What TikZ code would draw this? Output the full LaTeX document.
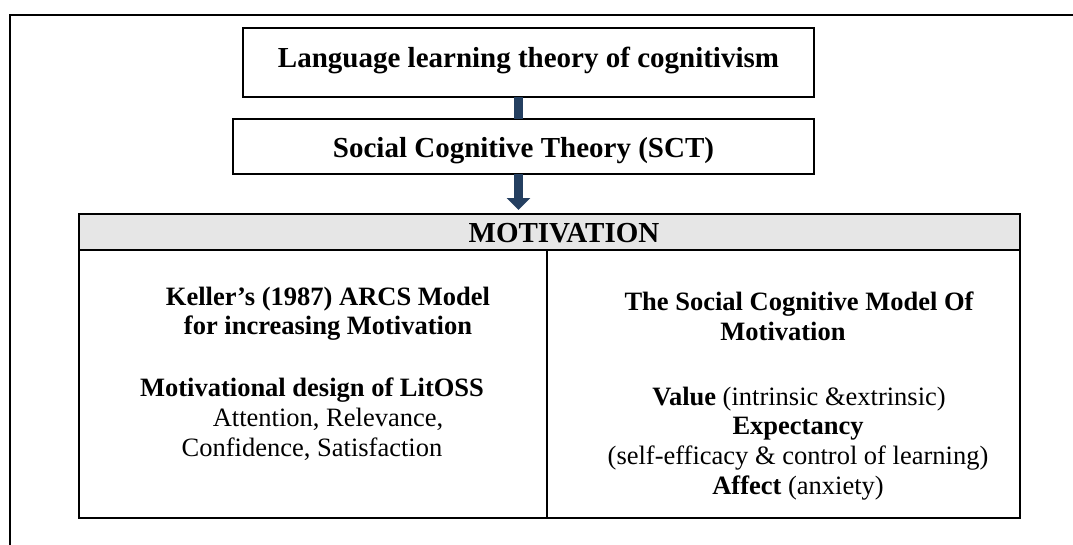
\documentclass[tikz,border=0pt]{standalone}
\usepackage{fontspec}
\setmainfont{Liberation Serif}
\usetikzlibrary{arrows.meta}
\definecolor{navy}{HTML}{243F60}
\definecolor{hdrgray}{HTML}{E6E6E6}
\begin{document}
\begin{tikzpicture}[x=1pt,y=-1pt,
  boxstyle/.style={draw, line width=2pt, inner sep=0pt, outer sep=0pt},
  ttl/.style={font=\fontsize{29}{30}\selectfont\bfseries, anchor=base, inner sep=0pt},
  bd/.style={font=\fontsize{26.5}{30}\selectfont, anchor=base, inner sep=0pt},
  bdb/.style={font=\fontsize{26.5}{30}\selectfont\bfseries, anchor=base, inner sep=0pt},
  conn/.style={draw=navy, line width=9pt}
]
\useasboundingbox (0,0) rectangle (1073,544);
% outer frame (only top and left edges visible)
\draw[line width=2pt] (10,546) -- (10,15) -- (1075,15);

% top boxes
\node[boxstyle, minimum width=571pt, minimum height=69pt] (b1) at (528.5,62.5) {};
\node[boxstyle, minimum width=581pt, minimum height=55pt] (b2) at (523.5,146.5) {};
\node[ttl] (t1) at (528.5,67) {Language learning theory of cognitivism};
\node[ttl] (t2) at (523.5,157) {Social Cognitive Theory (SCT)};

% table
\node[boxstyle, fill=hdrgray, minimum width=941pt, minimum height=36pt] (hdr) at (549.5,232) {};
\node[boxstyle, minimum width=941pt, minimum height=268pt] (tbl) at (549.5,384) {};
\coordinate (dv) at (547,0);
\draw[line width=2pt] (hdr.south -| dv) -- (tbl.south -| dv);
\node[ttl] (mot) at (564,242) {MOTIVATION};

% connectors
\coordinate (ax) at (518.5,0);
\draw[conn] (b1.south -| ax) -- (b2.north -| ax);
\draw[conn, shorten >=4pt, -{Triangle[width=23pt,length=12pt]}, navy] (b2.south -| ax) -- (hdr.north -| ax);

% left cell
\node[bdb] (l1) at (328,305) {Keller’s (1987) ARCS Model};
\node[bdb] (l2) at (328,334) {for increasing Motivation};
\node[bdb] (l3) at (312,396) {Motivational design of LitOSS};
\node[bd]  (l4) at (328,426) {Attention, Relevance,};
\node[bd]  (l5) at (312,456) {Confidence, Satisfaction};

% right cell
\node[bdb] (r1) at (799,310) {The Social Cognitive Model Of};
\node[bdb] (r2) at (783,340) {Motivation};
\node[bd]  (r3) at (799,405) {\textbf{Value} (intrinsic \&extrinsic)};
\node[bdb] (r4) at (798,434) {Expectancy};
\node[bd]  (r5) at (798,464) {(self-efficacy \& control of learning)};
\node[bd]  (r6) at (798,494) {\textbf{Affect} (anxiety)};
\end{tikzpicture}
\end{document}
